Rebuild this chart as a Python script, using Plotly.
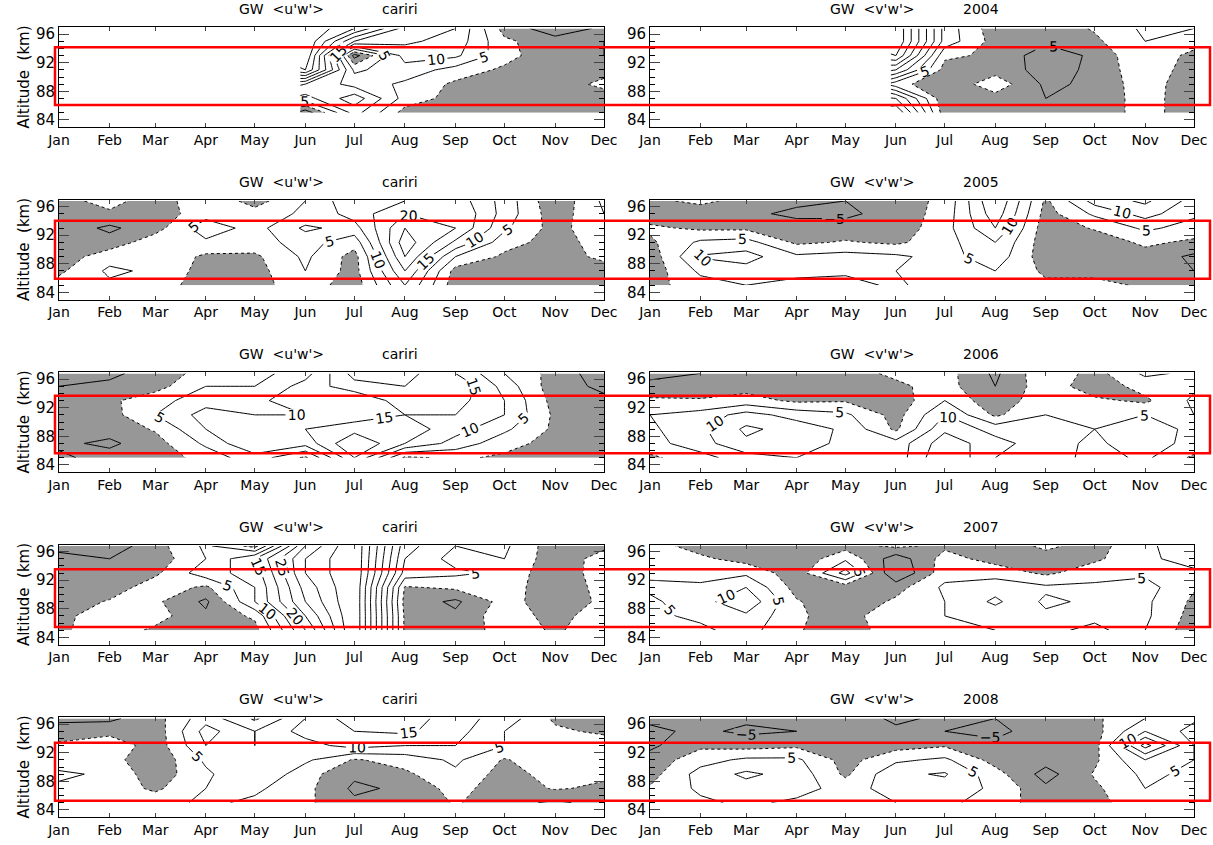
import numpy as np
import plotly.graph_objects as go

W, H = 1213, 845
months = ["Jan", "Feb", "Mar", "Apr", "May", "Jun", "Jul", "Aug", "Sep", "Oct", "Nov", "Dec"]
month_day = [1, 32, 60, 91, 121, 152, 182, 213, 244, 274, 305, 335]
altitude = [85, 87, 89, 91, 93, 95, 96.8]
alt_ticks = [84, 88, 92, 96]
N = None

# rows: altitude bottom -> top ; columns: Jan .. Dec
uw_2004 = [
    [N, N, N, N, N, -8, 12, -2, -3, -2, -3, -3],
    [N, N, N, N, N, 8, 18, 3, -2, -2, -3, -4],
    [N, N, N, N, N, 15, 8, 4, -1, -2, -4, 2],
    [N, N, N, N, N, 40, 4, 8, 3, -1, -5, -3],
    [N, N, N, N, N, 45, -7, 12, 11, 2, -4, -5],
    [N, N, N, N, N, 45, 20, 16, 13, 1, -3, -5],
    [N, N, N, N, N, 45, 35, 18, 15, -2, -8, -4],
]
vw_2004 = [
    [N, N, N, N, N, 30, -3, -4, -4, -3, 2, -3],
    [N, N, N, N, N, 20, -4, -2, -5, -3, 2, -3],
    [N, N, N, N, N, 2, -4, 3, -6, -4, 3, -4],
    [N, N, N, N, N, 20, -2, -2, -7, -4, 4, -3],
    [N, N, N, N, N, 35, 1, -1, -8, -4, 5, -2],
    [N, N, N, N, N, 40, 8, -2, -4, -1, 5, 3],
    [N, N, N, N, N, 40, 8, -3, -3, 0.5, 6, 5],
]
uw_2005 = [
    [2, 4, 3, -3, -2, 3, -3, 15, -3, -4, -3, -3],
    [-1, 6, 4, -2, -2, 5, -2, 20, -2, -3, -3, -2],
    [-3, 3, 4, -1, -1, 6, -2, 25, 5, -1, -2, 1],
    [-4, -3, 3, 4, 3, 7, 2, 28, 14, 2, -2, 2],
    [-2, -6, -2, 8, 3, 11, 8, 25, 20, 6, -2, 4],
    [-1, -1, -3, 3, 2, 6, 12, 20, 20, 8, -3, 5],
    [-2, 2, -3, 4, -2, 5, 14, 15, 18, 8, -4, 6],
]
vw_2005 = [
    [-2, 3, 5, 4, 3, 6, 2, 3, 1, 2, -1, -3],
    [-3, 6, 8, 6, 6, 5, 4, 5, -1, -2, -3, -5],
    [-3, 10.5, 12, 6, 7, 6, 3, 8, -3, -3, -2, -6],
    [-1, 6, 7, -1, 0.5, -1, 3, 10, -3, -3, 1, -1],
    [1, -1, -1, -3, -3, -3, 3, 15, -3, 0.5, 6, 3],
    [-3, -5, -4, -6, -6, -3, 2, 18, -2, 6, 12, 6],
    [-2, 2, -3, -4, -5, -2, 1, 20, -1, 12, 16, 8],
]
uw_2006 = [
    [-6, -3, -3, 2, 8, -1, 20, -1, 1, -1, -3, -4],
    [-4, -6, -2, 6, 15, 12, 25, 15, 8, 2, -2, -4],
    [-3, -3, 0.5, 10, 12, 15, 18, 18, 12, 6, -1, -4],
    [-3, -2, 5, 12, 10, 10, 12, 15, 15, 10, -1, -3],
    [-3, -1, 3, 8, 8, 15, 10, 18, 17, 10, -2, -4],
    [-5, -4, -2, 5, 5, 12, 18, 20, 20, 8, -3, -6],
    [-8, -6, -3, 2, 3, 8, 22, 22, 15, 5, -2, -8],
]
vw_2006 = [
    [-1, 3, 8, 10, 10, 7, 20, 10, 8, 3, 6, -1],
    [3, 8, 14, 12, 9, 7, 18, 12, 7, 4, 8, 3],
    [4, 9, 16, 13, 9, -1, 14, 8, 6, 5, 7, 4],
    [5, 7, 12, 8, 6, -2, 10, -1, 5, 4, 5, 5],
    [1, 0.5, 2, -1, -0.5, -3, 5, -4, 4, 1, -1, 6],
    [-4, -3, -2, -3, -2, -1, 2, -5, 3, -3, 2, 4],
    [-6, -5, -3, -4, -2, 1, 2, -6, 4, -2, 6, 4],
]
uw_2007 = [
    [-1, 3, -1, -3, -2, 20, 45, -1, -3, 2, -0.5, 2],
    [-2, 4, 2, -4, 1, 25, 45, -1, -4, 3, -2, 3],
    [-3, 0.5, 1, -6, 10, 30, 45, -2, -6, 2, -3, 1],
    [-4, -3, 3, -1, 10, 32, 45, -0.5, 1, 3, -4, 2],
    [-3, -4, -1, 8, 12, 35, 45, 8, 6, 4, -4, 3],
    [-4, -5, -3, 5, 15, 35, 45, 10, 3, 5, -3, 2],
    [-6, -8, -2, 6, -2, 30, 45, 12, 5, 6, -3, -1],
]
vw_2007 = [
    [3, 4, 7, 0.5, -3, 3, 3, 5, 8, 12, 5, -3],
    [4, 6, 9, 1, -3, 5, 5, 7, 6, 8, 6, -2],
    [4, 8, 14, 0.5, -4, 1, 5, 11, 4, 6, 6, -1],
    [6, 6, 10, -2, -3, -2, 6, 8, 6, 6, 7, 0.5],
    [4, 3, 4, -3, 12, -10, 3, 3, -1, 3, 4, 4],
    [2, 1, -2, -4, 4, -8, 2, -2, -2, -1, 4, 7],
    [2, -2, -4, -5, -2, 1, -1, -3, 1, -2, 4, 8],
]
uw_2008 = [
    [3, 4, 3, 6, 4, 1, -4, -4, 0.5, -3, -6, -3],
    [4, 3, -1, 5, 6, 1.5, -6, -4, 2, -3, 0.5, -1],
    [6, 4, -3, 4, 10, 2, -4, -1, 4, -2, 2, 1],
    [2, 2, -4, 6, 8, 6, -0.5, 2, 6, -0.5, 4, 2],
    [1, 4, -3, 10, 5, 8, 12, 10, 10, 5, 3, 3],
    [-3, -2, -3, 12, 5, 12, 15, 16, 12, 5, 1, -1],
    [-6, -6, -2, 8, -1, 10, 18, 18, 12, 8, -1, -3],
]
vw_2008 = [
    [2, 4, 6, 4, 1, 5, 6, 3, -3, -2, 4, 3],
    [0.5, 6, 8, 7, 3, 7, 8, 4, -4, -1, 5, 4],
    [-2, 7, 11, 8, -1, 9, 10.5, 2, -7, 0.5, 6, 4],
    [-3, 3, 6, 6, -2, 4, 6, -2, -3, -1, 10, 5],
    [-6, -1, -2, -1, -3, -2, -0.5, -4, -4, -2, 22, 5],
    [-6, -4, -6, -5, -4, -4, -5, -6, -3, -2, 10, 3],
    [-4, -5, -4, -3, -2, -6, -4, -5, -2, -1, 5, 6],
]

panels = [
    (uw_2004, "GW  <u'w'>", "cariri"), (vw_2004, "GW  <v'w'>", "2004"),
    (uw_2005, "GW  <u'w'>", "cariri"), (vw_2005, "GW  <v'w'>", "2005"),
    (uw_2006, "GW  <u'w'>", "cariri"), (vw_2006, "GW  <v'w'>", "2006"),
    (uw_2007, "GW  <u'w'>", "cariri"), (vw_2007, "GW  <v'w'>", "2007"),
    (uw_2008, "GW  <u'w'>", "cariri"), (vw_2008, "GW  <v'w'>", "2008"),
]

FONT = "DejaVu Sans"
GRAY = "#979797"
col_px = [(59, 604), (650, 1194)]
row_top = [27 + 172.5 * i for i in range(5)]
box_h = 100
rect_px = [(47.3, 105), (220.7, 278.7), (395.7, 453.3), (569.3, 627), (742.7, 800.7)]
BLACK_SCALE = [[0, "black"], [1, "black"]]


def px(x):
    return x / W


def py(y):
    return 1 - y / H


fig = go.Figure()
layout = dict(
    width=W, height=H, margin=dict(l=0, r=0, t=0, b=0, autoexpand=False),
    paper_bgcolor="white", plot_bgcolor="white", showlegend=False,
    font=dict(family=FONT, size=14, color="black"),
)
annotations = []
shapes = []

for k, (data, name, tag) in enumerate(panels):
    r, c = divmod(k, 2)
    ax = k + 1
    xs = "" if ax == 1 else str(ax)
    z = np.array([[np.nan if v is None else v for v in row] for row in data], dtype=float)
    common = dict(x=month_day, y=altitude, z=z, xaxis="x" + xs, yaxis="y" + xs,
                  showscale=False, hoverinfo="skip", connectgaps=False)
    # negative region shaded (plotly shades the side that fails the constraint)
    fig.add_trace(go.Contour(
        **common,
        contours=dict(type="constraint", operation=">", value=0, showlabels=False),
        fillcolor=GRAY, line=dict(color="black", width=1, dash="dot", smoothing=0),
    ))
    for lo, hi in ((5, 60), (-60, -5)):
        fig.add_trace(go.Contour(
            **common, autocontour=False, colorscale=BLACK_SCALE,
            contours=dict(coloring="lines", start=lo, end=hi, size=5, showlabels=True,
                          labelfont=dict(family=FONT, size=14, color="black"),
                          labelformat=".0f"),
            line=dict(width=1, smoothing=0),
        ))
    x0, x1 = col_px[c]
    t = row_top[r]
    layout["xaxis" + xs] = dict(
        domain=[px(x0), px(x1)], anchor="y" + xs, range=[1, 335], automargin=False,
        tickmode="array", tickvals=month_day, ticktext=months,
        ticks="inside", ticklen=4, mirror="ticks", showline=True, linecolor="black",
        linewidth=1, showgrid=False, zeroline=False, tickfont=dict(size=14),
    )
    yax = dict(
        domain=[py(t + box_h), py(t)], anchor="x" + xs, range=[83, 97], automargin=False,
        tickmode="array", tickvals=alt_ticks, ticks="inside", ticklen=10,
        minor=dict(dtick=1, tick0=84, ticks="inside", ticklen=5, tickcolor="black"),
        mirror="ticks", showline=True, linecolor="black", linewidth=1,
        showgrid=False, zeroline=False, tickfont=dict(size=15),
    )
    if c == 0:
        yax["title"] = dict(text="Altitude  (km)", font=dict(size=15), standoff=2)
    layout["yaxis" + xs] = yax
    cx = (x0 + x1) / 2
    annotations.append(dict(text=name, x=px(cx - 50), y=py(t - 18), xref="paper", yref="paper",
                            showarrow=False, xanchor="center", yanchor="middle",
                            font=dict(size=14)))
    annotations.append(dict(text=tag, x=px(cx + (68 if c == 0 else 59)), y=py(t - 18),
                            xref="paper", yref="paper", showarrow=False,
                            xanchor="center", yanchor="middle", font=dict(size=14)))

for (ya, yb) in rect_px:
    shapes.append(dict(type="rect", xref="paper", yref="paper",
                       x0=px(55), x1=px(1210), y0=py(yb), y1=py(ya),
                       line=dict(color="red", width=2.5), fillcolor="rgba(0,0,0,0)"))

layout["annotations"] = annotations
layout["shapes"] = shapes
fig.update_layout(**layout)
fig.write_html("out.html", config={"displayModeBar": False},
               post_script="document.body.style.margin='0';document.body.style.overflow='hidden';")
